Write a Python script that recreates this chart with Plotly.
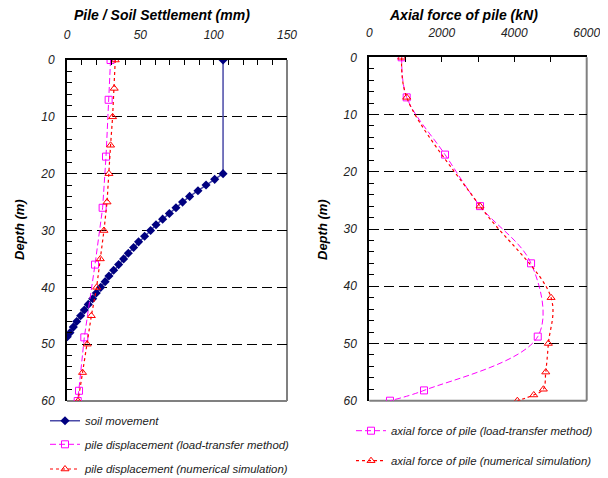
import plotly.graph_objects as go

# ---------------- data ----------------
soil_depth = [0, 20, 21, 22, 23, 24, 25, 26, 27, 28, 29, 30, 31, 32, 33, 34, 35, 36, 37, 38,
              39, 40, 41, 42, 43, 44, 45, 46, 47, 48, 48.7]
soil_move = [106.4, 106.4, 100.7, 94.8, 89.3, 83.6, 78.8, 74.3, 69.8, 65.2, 60.7, 57.0, 52.9,
             48.8, 45.4, 41.8, 38.6, 35.2, 31.8, 28.6, 26.0, 23.0, 20.0, 17.5, 14.5, 11.8, 9.3,
             6.6, 4.3, 2.0, 0.2]

lt_depth = [0, 7, 17, 26, 36, 48.8, 58.2, 60]
lt_disp = [29.7, 28.4, 26.6, 24.3, 19.1, 11.8, 8.2, 7.3]

ns_depth = [0, 5, 10, 15, 20, 25, 30, 35, 40, 45, 50, 55, 60]
ns_disp = [32.9, 32.2, 31.1, 29.7, 28.6, 27.3, 25.2, 22.7, 20.2, 16.6, 13.8, 10.6, 7.5]

lt_force_depth = [0, 7, 17, 26, 36, 48.8, 58.2, 60]
lt_force = [894, 1032, 2090, 3056, 4464, 4649, 1510, 571]

ns_force_depth = [0, 7, 26, 42, 50, 55, 58, 59, 60]
ns_force = [894, 1032, 3056, 5017, 4942, 4870, 4804, 4539, 4086]

x1_ticks = [0, 50, 100, 150]
x2_ticks = [0, 2000, 4000, 6000]
y_ticks = [0, 10, 20, 30, 40, 50, 60]

title1 = "Pile / Soil Settlement (mm)"
title2 = "Axial force of pile (kN)"
ytitle = "Depth (m)"

# ---------------- figure ----------------
FONT = "Liberation Sans, Arial, sans-serif"
OFF = 8                      # page body margin
W, H = 608 - OFF, 478 - OFF


def px(x):
    return (x - OFF) / W


def py(y):
    return (H - (y - OFF)) / H


fig = go.Figure()

fig.add_trace(go.Scatter(
    x=soil_move, y=soil_depth, mode="lines+markers", name="soil movement",
    line=dict(color="#4a4aa8", width=1.5),
    marker=dict(symbol="diamond", size=7, color="#000080"),
    xaxis="x", yaxis="y", legend="legend"))
fig.add_trace(go.Scatter(
    x=lt_disp, y=lt_depth, mode="lines+markers", name="pile displacement (load-transfer method)",
    line=dict(color="#ff00ff", width=1, dash="6px,3px"),
    marker=dict(symbol="square-open", size=7, color="#ff00ff", line=dict(width=1)),
    xaxis="x", yaxis="y", legend="legend2"))
fig.add_trace(go.Scatter(
    x=ns_disp, y=ns_depth, mode="lines+markers", name="pile displacement (numerical simulation)",
    line=dict(color="#ff0000", width=1.2, dash="dot"),
    marker=dict(symbol="triangle-up-open", size=7, color="#ff0000", line=dict(width=1)),
    xaxis="x", yaxis="y", legend="legend3"))

fig.add_trace(go.Scatter(
    x=lt_force, y=lt_force_depth, mode="lines+markers", name="axial force of pile (load-transfer method)",
    line=dict(color="#ff00ff", width=1, dash="6px,3px", shape="spline", smoothing=1),
    marker=dict(symbol="square-open", size=7, color="#ff00ff", line=dict(width=1)),
    xaxis="x2", yaxis="y2", legend="legend4"))
fig.add_trace(go.Scatter(
    x=ns_force, y=ns_force_depth, mode="lines+markers", name="axial force of pile (numerical simulation)",
    line=dict(color="#ff0000", width=1.2, dash="dot", shape="spline", smoothing=1),
    marker=dict(symbol="triangle-up-open", size=7, color="#ff0000", line=dict(width=1)),
    xaxis="x2", yaxis="y2", legend="legend5"))

tickfont = dict(family=FONT, size=12, color="#222", style="italic")

xcommon = dict(side="top", showline=True, linecolor="black", linewidth=2, ticks="inside",
               ticklen=5, tickcolor="black", tickfont=tickfont, showgrid=False, zeroline=False,
               ticklabelstandoff=14, ticklabeloverflow="allow", fixedrange=True)
ycommon = dict(range=[60, 0], tickvals=y_ticks, showline=True, linecolor="black", linewidth=2,
               ticks="inside", ticklen=5, tickcolor="black", tickfont=tickfont,
               showgrid=True, gridcolor="black", gridwidth=1, griddash="10px,5px",
               zeroline=False, ticklabelstandoff=8, ticklabeloverflow="allow",
               minor=dict(dtick=2, ticks="inside", ticklen=5, tickcolor="black", showgrid=False))

fig.update_layout(
    width=W, height=H, margin=dict(l=0, r=0, t=0, b=0, autoexpand=False),
    paper_bgcolor="white", plot_bgcolor="white", showlegend=True,
    font=dict(family=FONT, color="black"),
    xaxis=dict(domain=[px(67), px(287)], range=[0, 150], tickvals=x1_ticks, anchor="y",
               minor=dict(dtick=10, ticks="inside", ticklen=5, tickcolor="black"), **xcommon),
    yaxis=dict(domain=[py(401), py(60)], anchor="x", **ycommon),
    xaxis2=dict(domain=[px(369.3), px(586.7)], range=[0, 6000], tickvals=x2_ticks, anchor="y2",
                minor=dict(dtick=1000, ticks="inside", ticklen=5, tickcolor="black"), **xcommon),
    yaxis2=dict(domain=[py(400.7), py(57.3)], anchor="x2", **ycommon),
)

# legends: one item each for exact placement
legfont = dict(family=FONT, size=11.4, color="#222", style="italic")
leg_common = dict(bgcolor="rgba(0,0,0,0)", borderwidth=0, font=legfont, xanchor="left",
                  yanchor="middle", xref="paper", yref="paper")
fig.update_layout(
    legend=dict(x=px(45), y=py(420.7), **leg_common),
    legend2=dict(x=px(45), y=py(444.3), **leg_common),
    legend3=dict(x=px(45), y=py(469), **leg_common),
    legend4=dict(x=px(351), y=py(430.7), **leg_common),
    legend5=dict(x=px(351), y=py(460.7), **leg_common),
)

# gray right & bottom frame (below the dashed gridline at 60)
shapes = []
for xr, yr in (("x domain", "y domain"), ("x2 domain", "y2 domain")):
    shapes.append(dict(type="line", xref=xr, yref=yr, x0=1, x1=1, y0=0, y1=1,
                       line=dict(color="#808080", width=2), layer="below"))
    shapes.append(dict(type="line", xref=xr, yref=yr, x0=0, x1=1, y0=0, y1=0,
                       line=dict(color="#808080", width=2), layer="below"))
fig.update_layout(shapes=shapes)

titlefont = dict(family=FONT, size=14, color="black", weight="bold", style="italic")
fig.add_annotation(text=title1, x=px(162), y=py(15), xref="paper", yref="paper",
                   showarrow=False, font=titlefont, xanchor="center", yanchor="middle")
fig.add_annotation(text=title2, x=px(463), y=py(15), xref="paper", yref="paper",
                   showarrow=False, font=titlefont, xanchor="center", yanchor="middle")
ytfont = dict(family=FONT, size=13, color="black", weight="bold", style="italic")
fig.add_annotation(text=ytitle, x=px(19), y=py(230), xref="paper", yref="paper",
                   showarrow=False, font=ytfont, textangle=-90, xanchor="center", yanchor="middle")
fig.add_annotation(text=ytitle, x=px(322), y=py(230), xref="paper", yref="paper",
                   showarrow=False, font=ytfont, textangle=-90, xanchor="center", yanchor="middle")

fig.write_html("out.html")
